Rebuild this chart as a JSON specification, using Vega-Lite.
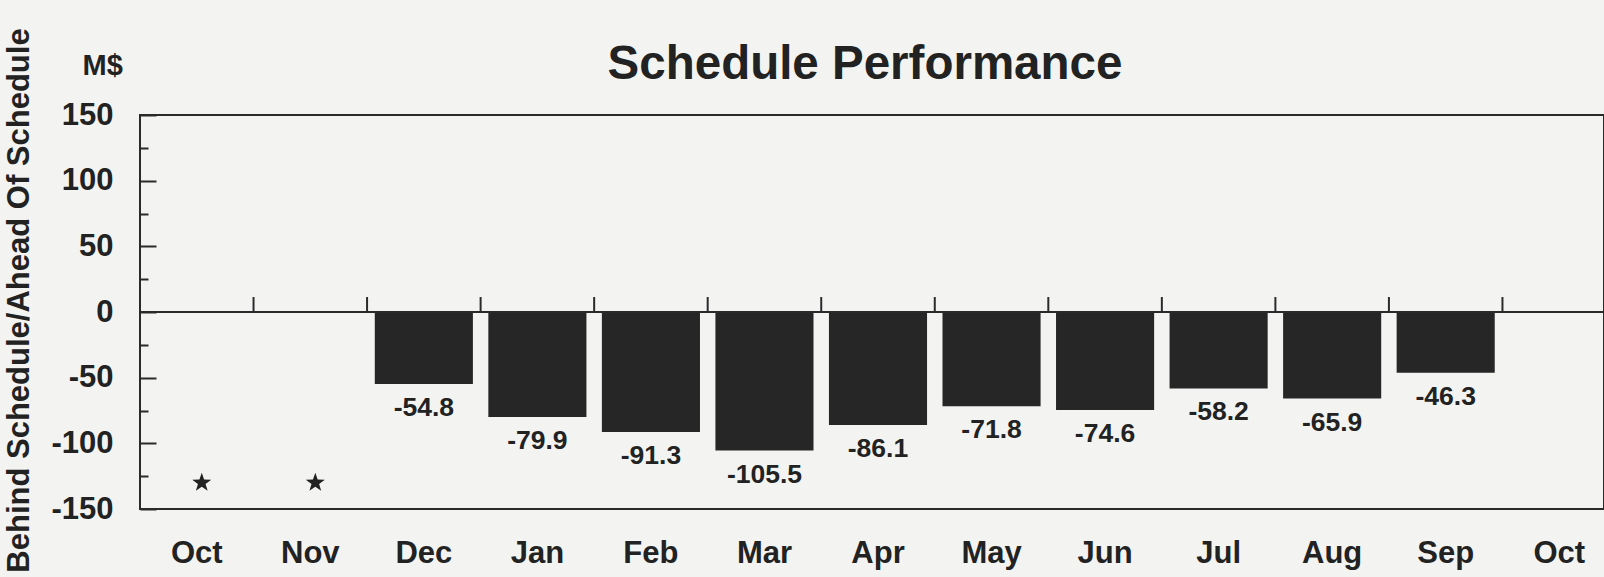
{
  "$schema": "https://vega.github.io/schema/vega-lite/v6.json",
  "width": 1464,
  "height": 394,
  "autosize": {"type": "none"},
  "padding": {"left": 140, "top": 115, "right": 0, "bottom": 68},
  "background": "#f3f4f2",
  "config": {
    "view": {"stroke": "#2a2a2a", "strokeWidth": 2},
    "font": "Liberation Sans",
    "axis": {"grid": false, "labelColor": "#222222", "titleColor": "#222222", "tickColor": "#2a2a2a", "domainColor": "#2a2a2a"}
  },
  "title": {
    "text": "Schedule Performance",
    "fontSize": 47.5,
    "fontWeight": "bold",
    "color": "#222222",
    "anchor": "middle",
    "dx": -7,
    "baseline": "alphabetic",
    "offset": -99
  },
  "data": {
    "values": [
      {"month": "Oct", "value": null, "status": "no data"},
      {"month": "Nov", "value": null, "status": "no data"},
      {"month": "Dec", "value": -54.8, "status": "reported"},
      {"month": "Jan", "value": -79.9, "status": "reported"},
      {"month": "Feb", "value": -91.3, "status": "reported"},
      {"month": "Mar", "value": -105.5, "status": "reported"},
      {"month": "Apr", "value": -86.1, "status": "reported"},
      {"month": "May", "value": -71.8, "status": "reported"},
      {"month": "Jun", "value": -74.6, "status": "reported"},
      {"month": "Jul", "value": -58.2, "status": "reported"},
      {"month": "Aug", "value": -65.9, "status": "reported"},
      {"month": "Sep", "value": -46.3, "status": "reported"},
      {"month": "Oct (next)", "value": null, "status": "future"}
    ]
  },
  "encoding": {
    "x": {
      "field": "month",
      "type": "nominal",
      "sort": null,
      "scale": {
        "domain": ["Oct", "Nov", "Dec", "Jan", "Feb", "Mar", "Apr", "May", "Jun", "Jul", "Aug", "Sep", "Oct (next)"],
        "range": [0, 1476],
        "paddingInner": 0,
        "paddingOuter": 0
      },
      "axis": {
        "orient": "bottom",
        "title": null,
        "labelAngle": 0,
        "labelExpr": "slice(datum.label, 0, 3)",
        "labelFontSize": 31,
        "labelFontWeight": "bold",
        "labelBaseline": "middle",
        "labelPadding": 44,
        "ticks": false,
        "tickSize": 0,
        "domain": false
      }
    }
  },
  "resolve": {"axis": {"y": "independent"}},
  "layer": [
    {
      "mark": {"type": "bar", "color": "#262626", "width": {"band": 0.864}},
      "encoding": {
        "y": {
          "field": "value",
          "type": "quantitative",
          "scale": {"domain": [-150, 150], "nice": false, "zero": false},
          "axis": {
            "orient": "left",
            "values": [-150, -100, -50, 0, 50, 100, 150],
            "labelExpr": "datum.value + ''",
            "tickSize": -16,
            "tickWidth": 2,
            "domain": false,
            "labelFontSize": 31,
            "labelFontWeight": "bold",
            "labelPadding": 43,
            "labelFlush": false,
            "labelOverlap": false,
            "title": "Behind Schedule/Ahead Of Schedule",
            "titleFontSize": 31,
            "titleFontWeight": "bold",
            "titleAngle": -90,
            "titleAlign": "center",
            "titleBaseline": "middle",
            "titleX": -121,
            "titleY": 185
          }
        },
        "y2": {"datum": 0}
      }
    },
    {
      "mark": {"type": "text", "baseline": "top", "dy": 11, "fontSize": 26.5, "fontWeight": "bold", "color": "#222222"},
      "encoding": {
        "y": {
          "field": "value",
          "type": "quantitative",
          "axis": {
            "orient": "left",
            "values": [-125, -75, -25, 25, 75, 125],
            "tickSize": -8,
            "tickWidth": 2,
            "labels": false,
            "domain": false,
            "title": "M$",
            "titleFontSize": 29,
            "titleFontWeight": "bold",
            "titleAngle": 0,
            "titleAlign": "left",
            "titleBaseline": "alphabetic",
            "titleX": -58,
            "titleY": -41
          }
        },
        "text": {"field": "value", "type": "nominal"}
      }
    },
    {
      "mark": {"type": "rule", "color": "#2a2a2a", "strokeWidth": 2},
      "encoding": {
        "x": {"field": "month", "type": "nominal", "sort": null, "bandPosition": 0},
        "y": {"datum": 0, "type": "quantitative", "axis": null},
        "y2": {"datum": 11.4}
      }
    },
    {
      "mark": {"type": "rule", "color": "#2a2a2a", "strokeWidth": 2},
      "encoding": {
        "x": null,
        "y": {"datum": 0, "type": "quantitative", "axis": null}
      }
    },
    {
      "transform": [{"filter": "datum.status === 'no data'"}],
      "mark": {
        "type": "point",
        "shape": "M0.5,-1L0.735,-0.324L1.451,-0.309L0.88,0.124L1.088,0.809L0.5,0.4L-0.088,0.809L0.12,0.124L-0.451,-0.309L0.265,-0.324Z",
        "filled": true,
        "size": 400,
        "color": "#222222",
        "opacity": 1
      },
      "encoding": {
        "y": {"datum": -130, "type": "quantitative", "axis": null}
      }
    }
  ]
}
